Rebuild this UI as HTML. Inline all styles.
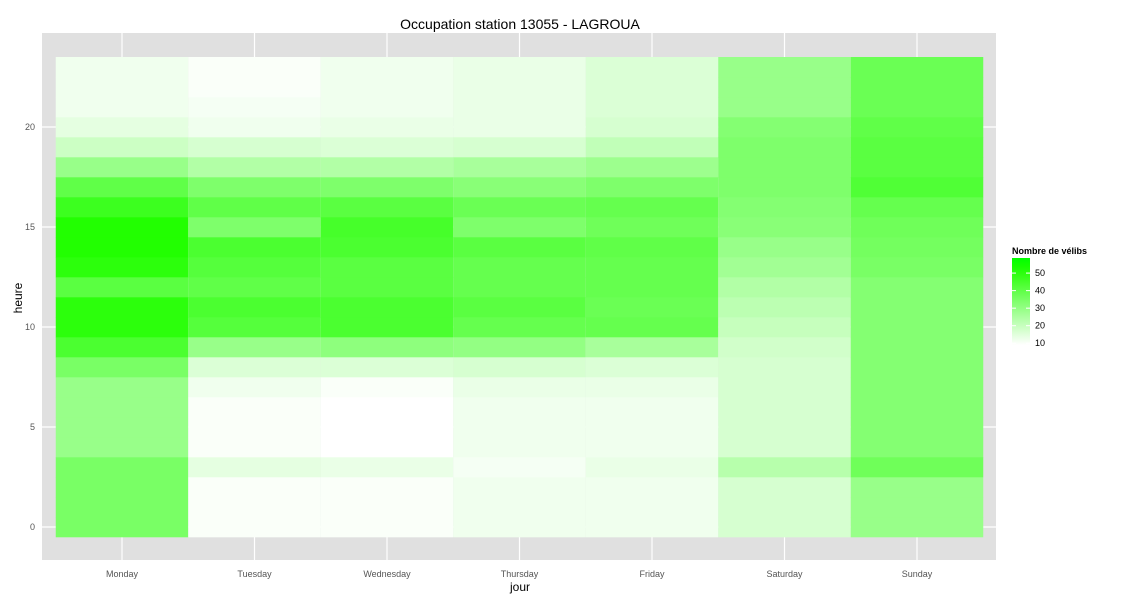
<!DOCTYPE html>
<html><head><meta charset="utf-8"><style>
body{margin:0;background:#fff;font-family:"Liberation Sans",sans-serif;}
</style></head><body>
<svg id="chart" width="1125" height="600" xmlns="http://www.w3.org/2000/svg">
<defs><linearGradient id="lg" x1="0" y1="1" x2="0" y2="0"></linearGradient></defs>
<rect x="42" y="33" width="954" height="527" fill="#e0e0e0"/>
<g id="grid"></g>
<g id="cells"></g>
<g id="axes"></g>
<text x="520" y="29" font-size="14" text-anchor="middle">Occupation station 13055 - LAGROUA</text>
<text x="520" y="591" font-size="12" text-anchor="middle">jour</text>
<text x="22" y="298" font-size="12" text-anchor="middle" transform="rotate(-90 22 298)">heure</text>
<g>
<text x="1012" y="254" font-size="9" font-weight="bold">Nombre de vélibs</text>
<rect x="1012" y="258" width="18" height="87" fill="url(#lg)"/>
<g id="legendticks"></g>
</g>
</svg>
<script>
const days=["Monday","Tuesday","Wednesday","Thursday","Friday","Saturday","Sunday"];
const yTicks=[0,5,10,15,20];
const legendTicks=[10,20,30,40,50];
const monday=[35,35,35,35,29,29,29,29,35,44,50,50,41,50,52,52,47,40,29,19,14,12,12,12];
const tuesday=[10,10,10,14,10,10,10,12,16,29,42,44,40,42,44,34,40,34,24,17,12,11,10,10];
const wednesday=[10,10,10,13,9,9,9,10,16,31,44,44,41,41,44,45,41,34,24,16,13,12,12,12];
const thursday=[12,12,12,11,12,12,12,13,17,30,39,41,39,39,41,34,38,32,26,17,13,13,13,13];
const friday=[12,12,12,13,12,12,12,13,16,26,39,38,39,39,40,37,39,34,28,21,17,16,16,16];
const saturday=[17,17,17,23,17,17,17,17,17,18,20,22,24,27,29,32,33,34,34,34,33,29,29,29];
const sunday=[29,29,29,37,33,33,33,33,33,33,33,33,33,35,36,37,39,43,41,41,40,38,38,38];
const series=[monday,tuesday,wednesday,thursday,friday,saturday,sunday];
const vmin=9,vmax=58.6;
const NS="http://www.w3.org/2000/svg";
const xCenter=i=>122+i*132.5;
const yCenter=h=>527-20*h;
const legY=v=>345-(v-vmin)/(vmax-vmin)*87;
function col(v){let t=Math.max(0,Math.min(1,(v-vmin)/(vmax-vmin)));let r=Math.round(255*(1-t));let b=Math.max(0,Math.round(255-(255-r)*1.15));return `rgb(${r},255,${b})`;}
function mk(tag,attrs,parent){const e=document.createElementNS(NS,tag);for(const k in attrs)e.setAttribute(k,attrs[k]);parent.appendChild(e);return e;}
const lg=document.getElementById('lg');
for(let k=0;k<=10;k++){mk('stop',{offset:k/10,'stop-color':col(vmin+(vmax-vmin)*k/10)},lg);}
const grid=document.getElementById('grid'),cells=document.getElementById('cells'),axes=document.getElementById('axes');
days.forEach((d,i)=>{const l=mk('line',{x1:xCenter(i),x2:xCenter(i),y1:33,y2:560,stroke:'#fff','stroke-width':1.2},grid);


const t=mk('text',{x:xCenter(i),y:577,'font-size':9,fill:'#555','text-anchor':'middle'},axes);t.textContent=d;

});
yTicks.forEach(v=>{const l=mk('line',{x1:42,x2:996,y1:yCenter(v),y2:yCenter(v),stroke:'#fff','stroke-width':1.2},grid);


const t=mk('text',{x:35,y:yCenter(v)+3,'font-size':9,fill:'#555','text-anchor':'end'},axes);t.textContent=v;

});
series.forEach((s,i)=>s.forEach((v,h)=>{const r=mk('rect',{x:xCenter(i)-66.25,y:yCenter(h)-10,width:132.5,height:20.3,fill:col(v)},cells);

}));
const lt=document.getElementById('legendticks');
legendTicks.forEach(v=>{mk('line',{x1:1012,x2:1016,y1:legY(v),y2:legY(v),stroke:'#fff'},lt);mk('line',{x1:1026,x2:1030,y1:legY(v),y2:legY(v),stroke:'#fff'},lt);
const t=mk('text',{x:1035,y:legY(v)+3,'font-size':9,fill:'#000'},lt);t.textContent=v;

});
</script>
</body></html>
